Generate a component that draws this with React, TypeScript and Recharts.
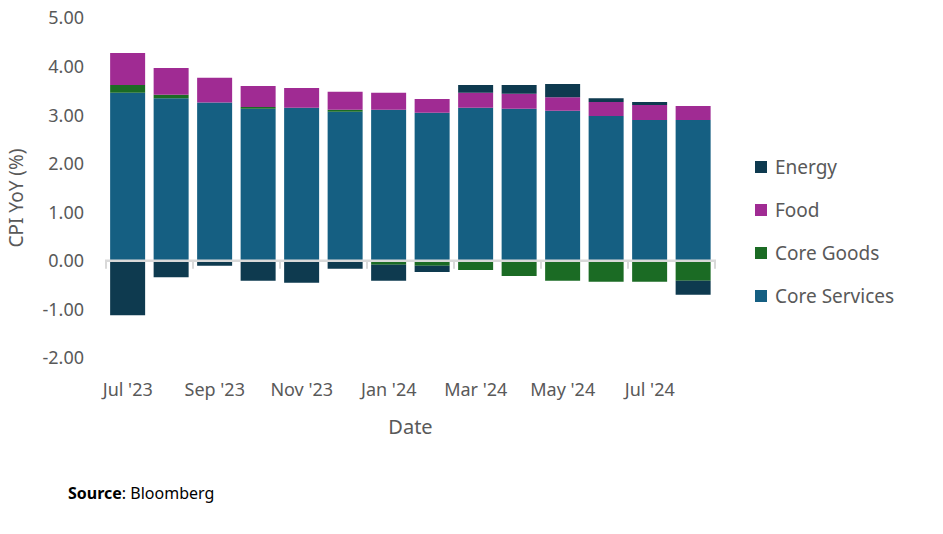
import React from 'react';
import { BarChart, Bar, XAxis, YAxis, ReferenceLine, Label } from 'recharts';

const months = [
  "Jul '23", "Aug '23", "Sep '23", "Oct '23", "Nov '23", "Dec '23", "Jan '24",
  "Feb '24", "Mar '24", "Apr '24", "May '24", "Jun '24", "Jul '24", "Aug '24",
];
const coreServices = [3.46, 3.35, 3.26, 3.13, 3.15, 3.07, 3.11, 3.05, 3.15, 3.13, 3.09, 2.98, 2.9, 2.9];
const coreGoods = [0.16, 0.07, 0, 0.04, 0, 0.04, -0.08, -0.1, -0.19, -0.31, -0.41, -0.43, -0.43, -0.41];
const food = [0.66, 0.55, 0.51, 0.43, 0.41, 0.37, 0.35, 0.28, 0.31, 0.31, 0.28, 0.29, 0.31, 0.29];
const energy = [-1.12, -0.34, -0.1, -0.41, -0.45, -0.16, -0.33, -0.13, 0.16, 0.18, 0.27, 0.08, 0.06, -0.29];
const yTicks = [-2, -1, 0, 1, 2, 3, 4, 5];

const series = [
  { key: 'coreServices', name: 'Core Services', color: '#155f82' },
  { key: 'coreGoods', name: 'Core Goods', color: '#1b6b24' },
  { key: 'food', name: 'Food', color: '#a02b93' },
  { key: 'energy', name: 'Energy', color: '#0e3a4f' },
];

const data = months.map((m, i) => ({
  month: m,
  coreServices: coreServices[i],
  coreGoods: coreGoods[i],
  food: food[i],
  energy: energy[i],
}));

const FONT = '"Noto Sans", "Open Sans", sans-serif';
const GREY = '#595959';

// zero line with Excel-style tick marks between every second category
const ZeroAxis = (props: any) => {
  const { x1, x2, y1 } = props;
  const step = (x2 - x1) / months.length;
  const marks = [];
  for (let i = 0; i <= months.length; i += 2) {
    const x = x1 + step * i;
    marks.push(<line key={i} x1={x} x2={x} y1={y1} y2={y1 + 8} stroke="#d9d9d9" strokeWidth={2} />);
  }
  return (
    <g>
      <line x1={x1 - 1} x2={x2 + 1} y1={y1} y2={y1} stroke="#d9d9d9" strokeWidth={2.5} />
      {marks}
    </g>
  );
};

const YTitle = (props: any) => {
  const vb = props.viewBox || {};
  const x = (vb.x || 0) + 16;
  const y = (vb.y || 0) + (vb.height || 0) / 2 + 10;
  return (
    <text x={x} y={y} transform={`rotate(-90 ${x} ${y})`} textAnchor="middle" dominantBaseline="central"
      fill={GREY} fontSize={19} fontFamily={FONT}>
      CPI YoY (%)
    </text>
  );
};

export default function App() {
  return (
    <div style={{ position: 'absolute', left: 0, top: 0, width: 943, height: 534, background: '#fff', fontFamily: FONT }}>
      <BarChart
        width={943}
        height={534}
        data={data}
        stackOffset="sign"
        barCategoryGap="9.5%"
        margin={{ top: 18, right: 228, bottom: 96, left: 0 }}
      >
        <XAxis
          dataKey="month"
          interval={1}
          axisLine={false}
          tickLine={false}
          height={80}
          tick={{ fill: GREY, fontSize: 18, fontFamily: FONT }}
          tickMargin={19}
        >
          <Label value="Date" position="insideBottom" offset={4} style={{ fill: GREY, fontSize: 20, fontFamily: FONT }} />
        </XAxis>
        <YAxis
          domain={[-2, 5]}
          ticks={yTicks}
          interval={0}
          width={106}
          axisLine={false}
          tickLine={false}
          tickMargin={16}
          tickFormatter={(v: number) => v.toFixed(2)}
          tick={{ fill: GREY, fontSize: 18, fontFamily: FONT }}
        >
          <Label content={YTitle} />
        </YAxis>
        {series.map((s) => (
          <Bar key={s.key} dataKey={s.key} name={s.name} stackId="a" fill={s.color} isAnimationActive={false} />
        ))}
        <ReferenceLine y={0} shape={ZeroAxis} />
      </BarChart>

      <div style={{ position: 'absolute', left: 755, top: 145 }}>
        {[...series].reverse().map((s) => (
          <div key={s.key} style={{ display: 'flex', alignItems: 'center', height: 43, color: GREY, fontSize: 19 }}>
            <span style={{ width: 12, height: 12, background: s.color, marginRight: 8, display: 'inline-block' }} />
            {s.name}
          </div>
        ))}
      </div>

      <div style={{ position: 'absolute', left: 68, top: 482, fontSize: 16, color: '#000' }}>
        <b>Source</b>: Bloomberg
      </div>
    </div>
  );
}
